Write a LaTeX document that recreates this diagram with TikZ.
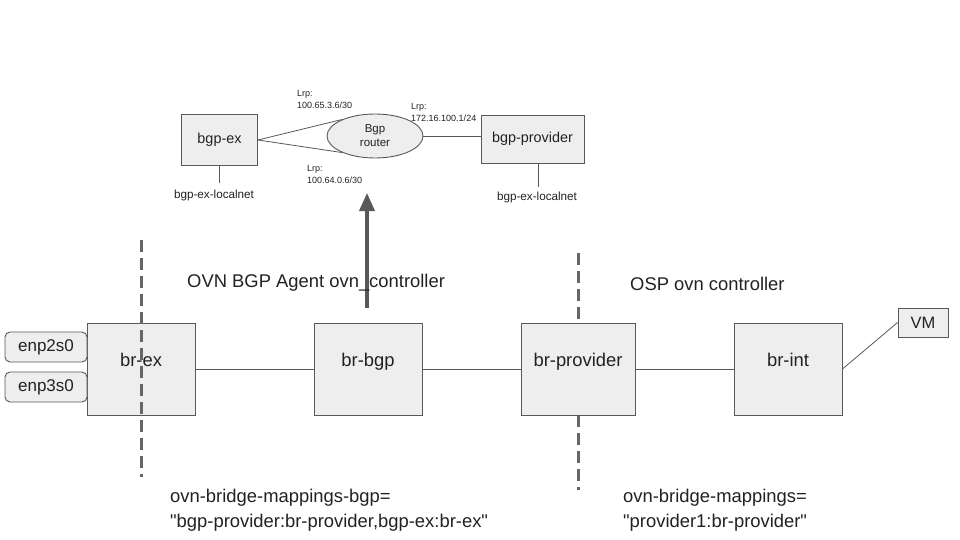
\documentclass[tikz,border=0pt]{standalone}
\usepackage{fontspec}
\setmainfont{Liberation Sans}
\usetikzlibrary{shapes.geometric,arrows.meta}
\definecolor{boxfill}{HTML}{EEEEEE}
\definecolor{edge}{HTML}{595959}
\definecolor{dashc}{HTML}{666666}
\definecolor{txt}{HTML}{222222}
\tikzset{
  bridge/.style={draw=edge,fill=boxfill,line width=0.9pt,minimum width=108pt,minimum height=92pt,inner sep=0pt,font=\fontsize{18.4}{20}\selectfont,text=txt,text height=13pt,text depth=19pt},
  topbox/.style={draw=edge,fill=boxfill,line width=0.9pt,inner sep=0pt,font=\fontsize{14.4}{16}\selectfont,text=txt},
  port/.style={draw=edge,fill=boxfill,line width=0.9pt,rounded corners=5pt,minimum width=82pt,minimum height=30pt,inner sep=0pt,font=\fontsize{17}{19}\selectfont,text=txt},
  conn/.style={draw=edge,line width=0.8pt},
  sep/.style={draw=dashc,line width=3pt,dash pattern=on 12pt off 6pt},
  lrp/.style={anchor=north west,inner sep=0pt,align=left,font=\fontsize{9}{12.5}\selectfont,text=txt},
  small/.style={inner sep=0pt,font=\fontsize{11.7}{13}\selectfont,text=txt},
  big/.style={inner sep=0pt,font=\fontsize{18.4}{25}\selectfont,text=txt,align=left},
}
\begin{document}
\begin{tikzpicture}[x=1pt,y=-1pt]
\useasboundingbox[fill=white] (0,0) rectangle (960,540);
% right separator (behind boxes)
\coordinate (s2a) at (578,253);
\coordinate (s2b) at (578,490);
\draw[sep] (s2a) -- (s2b);
% top part
\node[topbox,minimum width=76pt,minimum height=51pt] (bgpex) at (219.5,140) {bgp-ex};
\node[ellipse,draw=edge,fill=boxfill,line width=0.9pt,minimum width=96pt,minimum height=44pt,inner sep=0pt,align=center,font=\fontsize{11.5}{14}\selectfont,text=txt] (router) at (375,136) {Bgp\\router};
\node[topbox,minimum width=103pt,minimum height=48pt] (bgpprov) at (532.5,139) {bgp-provider};
\draw[conn] (bgpex.east) -- (router.153);
\draw[conn] (bgpex.east) -- (router.207);
\draw[conn] (router.east) -- (router.east -| bgpprov.west);
\coordinate (lp1) at (219.5,183);
\draw[conn] (bgpex.south) -- (lp1);
\node[small] (lpt1) at (214,195) {bgp-ex-localnet};
\coordinate (lp2) at (538,187);
\draw[conn] ([xshift=5.5pt]bgpprov.south) -- (lp2);
\node[small] (lpt2) at (537,197) {bgp-ex-localnet};
\node[lrp] (l1) at (297,90) {Lrp:\\100.65.3.6/30};
\node[lrp] (l2) at (411,103) {Lrp:\\172.16.100.1/24};
\node[lrp] (l3) at (307,165) {Lrp:\\100.64.0.6/30};
% bridges
\node[bridge] (brex) at (141,369) {br-ex};
\node[bridge] (brbgp) at (368,369) {br-bgp};
\node[bridge,minimum width=114pt] (brprov) at (578,369) {br-provider};
\node[bridge] (brint) at (788,369) {br-int};
\node[topbox,minimum width=50pt,minimum height=29pt,font=\fontsize{16.5}{18}\selectfont] (vm) at (923,322.5) {VM};
\node[port] (enp2) at (46,347) {enp2s0};
\node[port] (enp3) at (46,387) {enp3s0};
\draw[conn] (brex) -- (brbgp);
\draw[conn] (brbgp) -- (brprov);
\draw[conn] (brprov) -- (brint);
\draw[conn] (brint.east) -- (vm.west);
% arrow
\coordinate (atip) at (367,193);
\draw[draw=edge,line width=3.5pt,-{Triangle[length=18pt,width=15pt]}] ([xshift=-1pt]brbgp.north) ++(0,-15) -- (atip);
% left separator (over box)
\coordinate (s1a) at (141,240);
\coordinate (s1b) at (141,477);
\draw[sep] (s1a) -- (s1b);
% texts
\node[big,anchor=west] (t1) at (187,283) {OVN BGP Agent ovn\_controller};
\node[big,anchor=west] (t2) at (630,284) {OSP ovn controller};
\node[big,anchor=north west] (t3) at (170,489) {ovn-bridge-mappings-bgp=\\\textquotedbl bgp-provider:br-provider,bgp-ex:br-ex\textquotedbl};
\node[big,anchor=north west] (t4) at (623,489) {ovn-bridge-mappings=\\\textquotedbl provider1:br-provider\textquotedbl};
\end{tikzpicture}
\end{document}
